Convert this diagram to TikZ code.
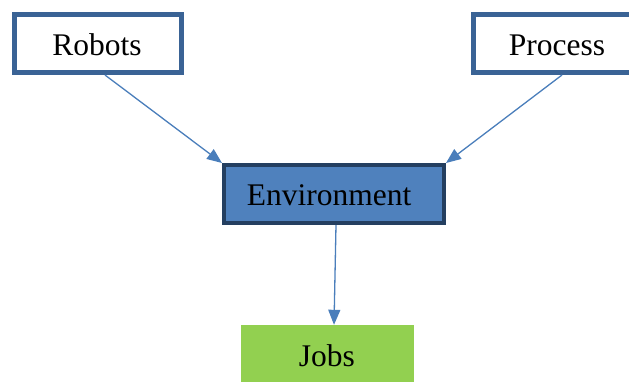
\documentclass[tikz,border=0pt]{standalone}
\usepackage{fontspec}
\setmainfont{Liberation Serif}
\usetikzlibrary{arrows.meta,calc}
\definecolor{boxborder}{HTML}{3A6395}
\definecolor{envfill}{HTML}{4F81BD}
\definecolor{envborder}{HTML}{243F60}
\definecolor{arrowc}{HTML}{4A7EBB}
\definecolor{jobsfill}{HTML}{92D050}
\tikzset{
  wbox/.style={draw=boxborder, line width=5pt, fill=white, inner sep=0pt},
  ebox/.style={draw=envborder, line width=4pt, fill=envfill, inner sep=0pt},
  jbox/.style={fill=jobsfill, inner sep=0pt},
  lbl/.style={font=\fontsize{31.5}{36}\selectfont},
  arr/.style={draw=arrowc, line width=1.3pt, -{Triangle[length=15pt,width=12pt]}}
}
\begin{document}
\begin{tikzpicture}[x=1pt,y=-1pt]
\useasboundingbox (0,0) rectangle (629,381);
\node[wbox, minimum width=167pt, minimum height=58pt] (robots) at (98,43.5) {};
\node[lbl] (robotsT) at (97,45) {Robots};
\node[wbox, minimum width=167pt, minimum height=58pt] (process) at (557,43.5) {};
\node[lbl] (processT) at (557,45) {Process};
\node[ebox, minimum width=220pt, minimum height=58pt] (env) at (334,194) {};
\node[lbl] (envT) at (329,195) {Environment};
\node[jbox, minimum width=173pt, minimum height=58pt] (jobs) at (327.5,354) {};
\node[lbl] (jobsT) at (327,356) {Jobs};
\coordinate (r1) at ($(robots.south)+(7,0)$);
\coordinate (p1) at ($(process.south)+(5,0)$);
\coordinate (e1) at ($(env.south)+(2,0)$);
\coordinate (j1) at ($(jobs.north)+(6.5,0)$);
\draw[arr] (r1) -- (env.north west);
\draw[arr] (p1) -- (env.north east);
\draw[arr] (e1) -- (j1);
\end{tikzpicture}
\end{document}
